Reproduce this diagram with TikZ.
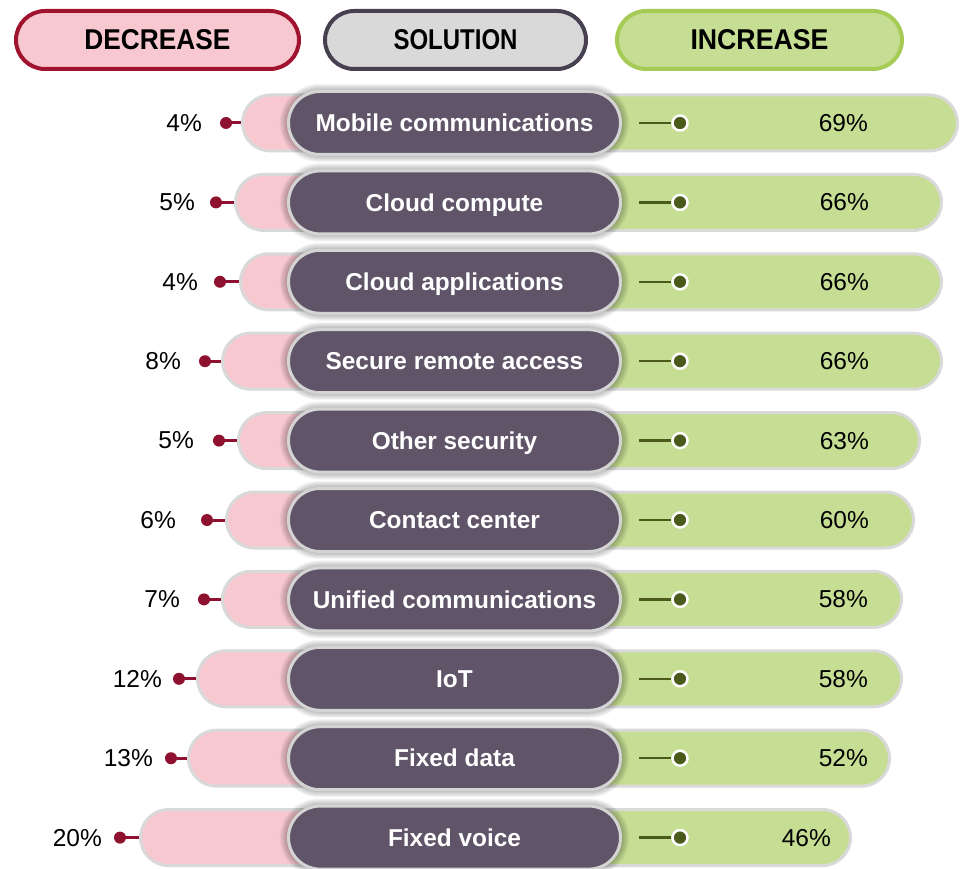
\documentclass[tikz,border=0pt]{standalone}
\usepackage{fontspec}
\setmainfont{Liberation Sans}
\usetikzlibrary{shapes.misc,calc}
\definecolor{pinkfill}{HTML}{F8C8D0}
\definecolor{barborder}{HTML}{D9D9D9}
\definecolor{dotred}{HTML}{8E1230}
\definecolor{hdrred}{HTML}{A0132F}
\definecolor{pillpurple}{HTML}{5F5468}
\definecolor{greenfill}{HTML}{C6DE93}
\definecolor{hdrgreen}{HTML}{A6CB55}
\definecolor{dotgreen}{HTML}{4A5A1B}
\definecolor{hdrgray}{HTML}{D9D9D9}
\definecolor{hdrgrayborder}{HTML}{474050}
\definecolor{pillborder}{HTML}{D4D4D4}
\def\rows{1/Mobile communications/4/241/226/202/959/69/868,
2/Cloud compute/5/234/216/195/943/66/869,
3/Cloud applications/4/239/220/198/943/66/869,
4/Secure remote access/8/221/205/181/943/66/869,
5/Other security/5/237/219/194/921/63/869,
6/Contact center/6/225/207/176/915/60/869,
7/Unified communications/7/221/204/180/903/58/868,
8/IoT/12/196/179/162/903/58/868,
9/Fixed data/13/187/171/153/891/52/868,
10/Fixed voice/20/139/120/102/852/46/831}
\begin{document}
\begin{tikzpicture}[x=1pt,y=-1pt,
  hdrbox/.style={rounded rectangle, inner sep=0, line width=4pt, minimum width=283pt, minimum height=58pt},
  bar/.style={rounded rectangle, inner sep=0, line width=3pt, draw=barborder, minimum height=56pt},
  pillbox/.style={rounded rectangle, inner sep=0, line width=3pt, draw=pillborder, fill=pillpurple,
     minimum width=332pt, minimum height=63pt, text=white,
     font=\fontsize{24.4}{28}\selectfont\bfseries, text height=17.5pt, text depth=0pt},
  shadowbox/.style={rounded rectangle, inner sep=0, fill=black, opacity=0.045, draw=none},
  pct/.style={anchor=east, inner sep=0, font=\fontsize{24.5}{28}\selectfont, text=black},
  reddot/.style={circle, fill=dotred, inner sep=0, minimum size=12pt},
  redline/.style={draw=dotred, line width=3pt},
  greendot/.style={circle, fill=dotgreen, draw=white, line width=2.5pt, inner sep=0, minimum size=15pt},
  greenline/.style={draw=dotgreen, line width=2.5pt}]
\useasboundingbox (0,0) rectangle (961,869);
% headers
\node[hdrbox, fill=pinkfill, draw=hdrred] (hdec) at (157.5,40) {\resizebox{146pt}{20pt}{\bfseries DECREASE}};
\node[hdrbox, fill=hdrgray, draw=hdrgrayborder, minimum width=261pt] (hsol) at (455.5,40) {\resizebox{124pt}{20pt}{\bfseries SOLUTION}};
\node[hdrbox, fill=greenfill, draw=hdrgreen, minimum width=285pt] (hinc) at (759.5,40) {\resizebox{138pt}{20pt}{\bfseries INCREASE}};
% bars, dots, labels
\foreach \i/\name/\lp/\pl/\dx/\lr/\re/\rp/\rr in \rows {
  \pgfmathsetmacro{\y}{123+(\i-1)*79.4}
  \pgfmathsetmacro{\pw}{454-\pl-1.5}
  \pgfmathsetmacro{\pc}{(\pl+1.5+454)/2}
  \pgfmathsetmacro{\gw}{\re-1.5-454}
  \pgfmathsetmacro{\gc}{(\re-1.5+454)/2}
  \node[bar, fill=pinkfill, minimum width=\pw pt] (lb\i) at (\pc,\y) {};
  \node[bar, fill=greenfill, minimum width=\gw pt] (rb\i) at (\gc,\y) {};
  \node[reddot] (rd\i) at (\dx,\y) {};
  \draw[redline] (rd\i.center) -- (lb\i.west);
  \node[pct] (lt\i) at (\lr,\y) {\lp\%};
  \node[pct] (rt\i) at (\rr,\y) {\rp\%};
}
% shadows
\foreach \i/\name/\lp/\pl/\dx/\lr/\re/\rp/\rr in \rows {
  \pgfmathsetmacro{\y}{123+(\i-1)*79.4}
  \foreach \k in {1,...,6} {
    \node[shadowbox, minimum width={335pt+2.4pt*\k}, minimum height={66pt+2pt*\k}] at (454.5,\y) {};
  }
}
% pills and green markers
\foreach \i/\name/\lp/\pl/\dx/\lr/\re/\rp/\rr in \rows {
  \pgfmathsetmacro{\y}{123+(\i-1)*79.4}
  \node[pillbox] (p\i) at (454.5,\y) {\name};
  \coordinate (gs\i) at ($(p\i.east)+(17,0)$);
  \node[greendot] (gd\i) at (680,\y) {};
  \draw[greenline] (gs\i) -- (gd\i);
}
\end{tikzpicture}
\end{document}
